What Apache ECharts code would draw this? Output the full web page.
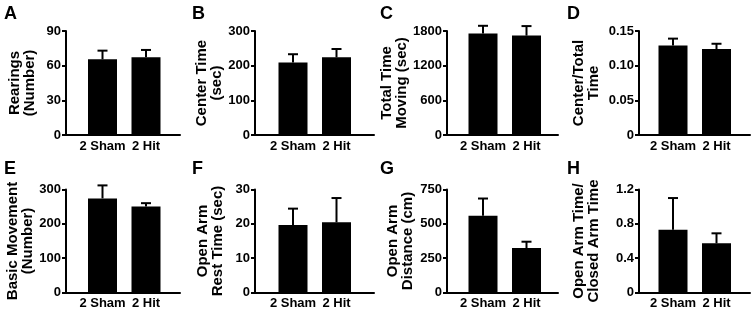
<!DOCTYPE html>
<html>
<head>
<meta charset="utf-8">
<script src="https://cdn.jsdelivr.net/npm/echarts@6/dist/echarts.min.js"></script>
<style>
  html, body { margin: 0; padding: 0; background: #fff; }
  #chart { width: 753px; height: 310px; }
</style>
</head>
<body>
<div id="chart"></div>
<script>
// groups and panel texts
const categories = ['2 Sham', '2 Hit'];
const panelLetters = ['A', 'B', 'C', 'D', 'E', 'F', 'G', 'H'];
const yTitles = [
  'Rearings\n(Number)',
  'Center Time\n(sec)',
  'Total Time\nMoving (sec)',
  'Center/Total\nTime',
  'Basic Movement\n(Number)',
  'Open Arm\nRest Time (sec)',
  'Open Arm\nDistance (cm)',
  'Open Arm Time/\nClosed Arm Time'
];

// y axis scales (tick labels come from these)
const yMax = [90, 300, 1800, 0.15, 300, 30, 750, 1.2];
const yInterval = [30, 100, 600, 0.05, 100, 10, 250, 0.4];
const yDecimals = [0, 0, 0, 2, 0, 0, 0, 1];

// mean and SEM for each panel, [2 Sham, 2 Hit]
const rearingsMean = [65.5, 67.2];
const rearingsSem = [7.5, 6.4];
const centerTimeMean = [209, 224];
const centerTimeSem = [24, 24];
const movingTimeMean = [1755, 1720];
const movingTimeSem = [135, 165];
const centerRatioMean = [0.129, 0.124];
const centerRatioSem = [0.010, 0.0076];
const basicMoveMean = [274, 250];
const basicMoveSem = [38, 10];
const restTimeMean = [19.6, 20.4];
const restTimeSem = [4.8, 7.1];
const distanceMean = [558, 322];
const distanceSem = [126, 46];
const armRatioMean = [0.73, 0.57];
const armRatioSem = [0.37, 0.117];

const means = [rearingsMean, centerTimeMean, movingTimeMean, centerRatioMean,
  basicMoveMean, restTimeMean, distanceMean, armRatioMean];
const sems = [rearingsSem, centerTimeSem, movingTimeSem, centerRatioSem,
  basicMoveSem, restTimeSem, distanceSem, armRatioSem];

// layout (px)
const colAxisLeft = [66, 255, 447, 639];
const colAxisRight = [180, 374, 558, 750];
const colFirstBar = [102.5, 293, 483, 673];
const barSpacing = 43.5;
const rowTop = [31, 189.5];
const rowHeight = [104, 103];
const nameGaps = [29, 30, 33, 38, 31, 30, 32, 38];
const letterLeft = [4, 192, 380, 567];
const letterTop = [5, 160];

const font = 'Liberation Sans, Arial, sans-serif';

const grid = [], xAxis = [], yAxis = [], series = [], title = [];

panelLetters.forEach((letter, p) => {
  const col = p % 4, row = Math.floor(p / 4);
  const top = rowTop[row], height = rowHeight[row];
  const dec = yDecimals[p];

  title.push({
    text: letter,
    left: letterLeft[col],
    top: letterTop[row],
    padding: 0,
    textStyle: { fontFamily: font, fontSize: 18, fontWeight: 'bold', color: '#000' }
  });

  // frame grid: y axis and x axis line
  const fg = grid.length;
  grid.push({ left: colAxisLeft[col], width: colAxisRight[col] - colAxisLeft[col], top, height });
  xAxis.push({
    gridIndex: fg, type: 'category', data: [''],
    axisLine: { show: true, lineStyle: { color: '#000', width: 2 } },
    axisTick: { show: false }, axisLabel: { show: false }, splitLine: { show: false }
  });
  yAxis.push({
    gridIndex: fg, type: 'value', min: 0, max: yMax[p], interval: yInterval[p],
    name: yTitles[p], nameLocation: 'middle', nameRotate: 90, nameGap: nameGaps[p],
    nameTextStyle: { fontFamily: font, fontSize: 15, fontWeight: 'bold', color: '#000', lineHeight: 15 },
    axisLine: { show: true, lineStyle: { color: '#000', width: 2 } },
    axisTick: { show: true, length: 4, lineStyle: { color: '#000', width: 2 } },
    axisLabel: {
      fontFamily: font, fontSize: 13, fontWeight: 'bold', color: '#000', margin: 5,
      formatter: v => (v === 0 ? '0' : v.toFixed(dec))
    },
    splitLine: { show: false }
  });

  // data grid: bars and error bars, centred on the bar positions
  const dg = grid.length;
  grid.push({ left: colFirstBar[col] - barSpacing / 2, width: barSpacing * 2, top, height });
  xAxis.push({
    gridIndex: dg, type: 'category', data: categories,
    axisLine: { show: false }, axisTick: { show: false },
    axisLabel: { fontFamily: font, fontSize: 13, fontWeight: 'bold', color: '#000', margin: 5, interval: 0 }
  });
  yAxis.push({ gridIndex: dg, type: 'value', min: 0, max: yMax[p], show: false });

  const xi = xAxis.length - 1, yi = yAxis.length - 1;
  series.push({
    type: 'bar', xAxisIndex: xi, yAxisIndex: yi,
    data: means[p], barWidth: 29,
    itemStyle: { color: '#000' }, silent: true
  });
  series.push({
    type: 'custom', xAxisIndex: xi, yAxisIndex: yi, clip: false, z: 3,
    data: categories.map((c, i) => [i, means[p][i], sems[p][i]]),
    encode: { x: 0, y: 1 },
    renderItem: (params, api) => {
      const i = api.value(0), m = api.value(1), s = api.value(2);
      const base = api.coord([i, m]);
      const tip = api.coord([i, m + s]);
      const st = { stroke: '#000', lineWidth: 2 };
      return {
        type: 'group',
        children: [
          { type: 'line', shape: { x1: base[0], y1: base[1], x2: tip[0], y2: tip[1] }, style: st },
          { type: 'line', shape: { x1: tip[0] - 5, y1: tip[1], x2: tip[0] + 5, y2: tip[1] }, style: st }
        ]
      };
    }
  });
});

const chart = echarts.init(document.getElementById('chart'));
chart.setOption({
  backgroundColor: '#fff',
  animation: false,
  title, grid, xAxis, yAxis, series
});
</script>
</body>
</html>
